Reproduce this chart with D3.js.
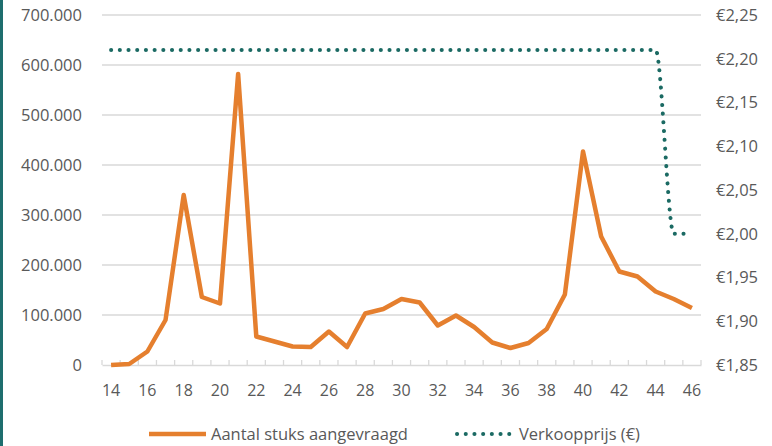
<!DOCTYPE html>
<html><head><meta charset="utf-8">
<script src="https://cdn.jsdelivr.net/npm/d3@7"></script>
<style>
body{margin:0;background:#fff;}
svg{display:block;font-family:"Open Sans",sans-serif;}
</style></head>
<body><svg id="c" width="772" height="446"></svg>
<script>
const weeks = d3.range(14, 47);
const demand = [0,2000,27000,90000,340000,136000,123000,582000,57000,47000,37000,36000,67000,36000,103000,112000,132000,125000,79000,99000,76000,45000,34000,44000,72000,141000,427000,257000,187000,177000,147000,132000,114000];
const price = [2.21,2.21,2.21,2.21,2.21,2.21,2.21,2.21,2.21,2.21,2.21,2.21,2.21,2.21,2.21,2.21,2.21,2.21,2.21,2.21,2.21,2.21,2.21,2.21,2.21,2.21,2.21,2.21,2.21,2.21,2.21,2.00,2.00];
const leftTicks = [0,100000,200000,300000,400000,500000,600000,700000];
const rightTicks = [1.85,1.90,1.95,2.00,2.05,2.10,2.15,2.20,2.25];
const xLabels = d3.range(14, 47, 2);
const seriesNames = ["Aantal stuks aangevraagd","Verkoopprijs (€)"];

const svg = d3.select("#c");
const orange = "#E57F2E", teal = "#1B6A63", txt = "#595959", grid = "#D9D9D9";
const L = 102, R = 701, T = 15, B = 365;

svg.append("rect").attr("x",0).attr("y",0).attr("width",3).attr("height",446).attr("fill","#1E6E6E");

const x = d3.scaleBand().domain(weeks).range([L, R]);
const cx = d => x(d) + x.bandwidth()/2;
const yL = d3.scaleLinear().domain([0, 700000]).range([B, T]);
const yR = d3.scaleLinear().domain([1.85, 2.25]).range([B, T]);

const fmt = v => v === 0 ? "0" : d3.format(",")(v).replace(/,/g, ".");
const fmtE = v => "€" + v.toFixed(2).replace(".", ",");

// gridlines
svg.append("g").selectAll("line").data(leftTicks.slice(1)).join("line")
  .attr("x1", L).attr("x2", R).attr("y1", d => yL(d)).attr("y2", d => yL(d))
  .attr("stroke", grid).attr("stroke-width", 1.3);

// x axis
const xa = svg.append("g").attr("transform", `translate(0,${B})`)
  .call(d3.axisBottom(x).tickValues([]).tickSize(0));
xa.select(".domain").attr("stroke", grid).attr("stroke-width", 1.3);
const bounds = weeks.map(w => x(w)).concat([R]);
svg.append("g").selectAll("line").data(bounds).join("line")
  .attr("x1", d => d).attr("x2", d => d).attr("y1", B).attr("y2", B - 5)
  .attr("stroke", grid).attr("stroke-width", 1.3);
svg.append("g").selectAll("text").data(xLabels).join("text")
  .attr("x", d => cx(d)).attr("y", 396).attr("text-anchor", "middle")
  .attr("fill", txt).attr("font-size", 16).text(d => d);

// left axis labels
const la = svg.append("g").attr("transform", `translate(${L},0)`)
  .call(d3.axisLeft(yL).tickValues(leftTicks).tickSize(0).tickPadding(20).tickFormat(fmt));
la.select(".domain").remove();
la.selectAll("text").attr("fill", txt).attr("font-size", 16.5).attr("font-family", '"Open Sans",sans-serif');

// right axis labels
const ra = svg.append("g").attr("transform", `translate(${R},0)`)
  .call(d3.axisRight(yR).tickValues(rightTicks).tickSize(0).tickPadding(15).tickFormat(fmtE));
ra.select(".domain").remove();
ra.selectAll("text").attr("fill", txt).attr("font-size", 16.5).attr("font-family", '"Open Sans",sans-serif');

// orange line
svg.append("path").datum(weeks.map((w,i)=>[w, demand[i]]))
  .attr("fill","none").attr("stroke", orange).attr("stroke-width", 4.5).attr("stroke-linejoin","round")
  .attr("d", d3.line().x(d => cx(d[0])).y(d => yL(d[1])));

// dotted price line
svg.append("path").datum(weeks.map((w,i)=>[w, price[i]]))
  .attr("fill","none").attr("stroke", teal).attr("stroke-width", 4)
  .attr("stroke-linecap","round").attr("stroke-dasharray","0.1 8.6")
  .attr("d", d3.line().x(d => cx(d[0])).y(d => yR(d[1])).curve(d3.curveMonotoneX));

// legend
const lg = svg.append("g");
lg.append("line").attr("x1",149).attr("x2",206).attr("y1",434).attr("y2",434)
  .attr("stroke", orange).attr("stroke-width", 4.5);
lg.append("text").attr("x",211).attr("y",440).attr("fill",txt).attr("font-size",16.5).text(seriesNames[0]);
lg.append("line").attr("x1",457).attr("x2",511).attr("y1",434).attr("y2",434)
  .attr("stroke", teal).attr("stroke-width", 4).attr("stroke-linecap","round").attr("stroke-dasharray","0.1 8.6");
lg.append("text").attr("x",519).attr("y",440).attr("fill",txt).attr("font-size",16.5).text(seriesNames[1]);
</script></body></html>
